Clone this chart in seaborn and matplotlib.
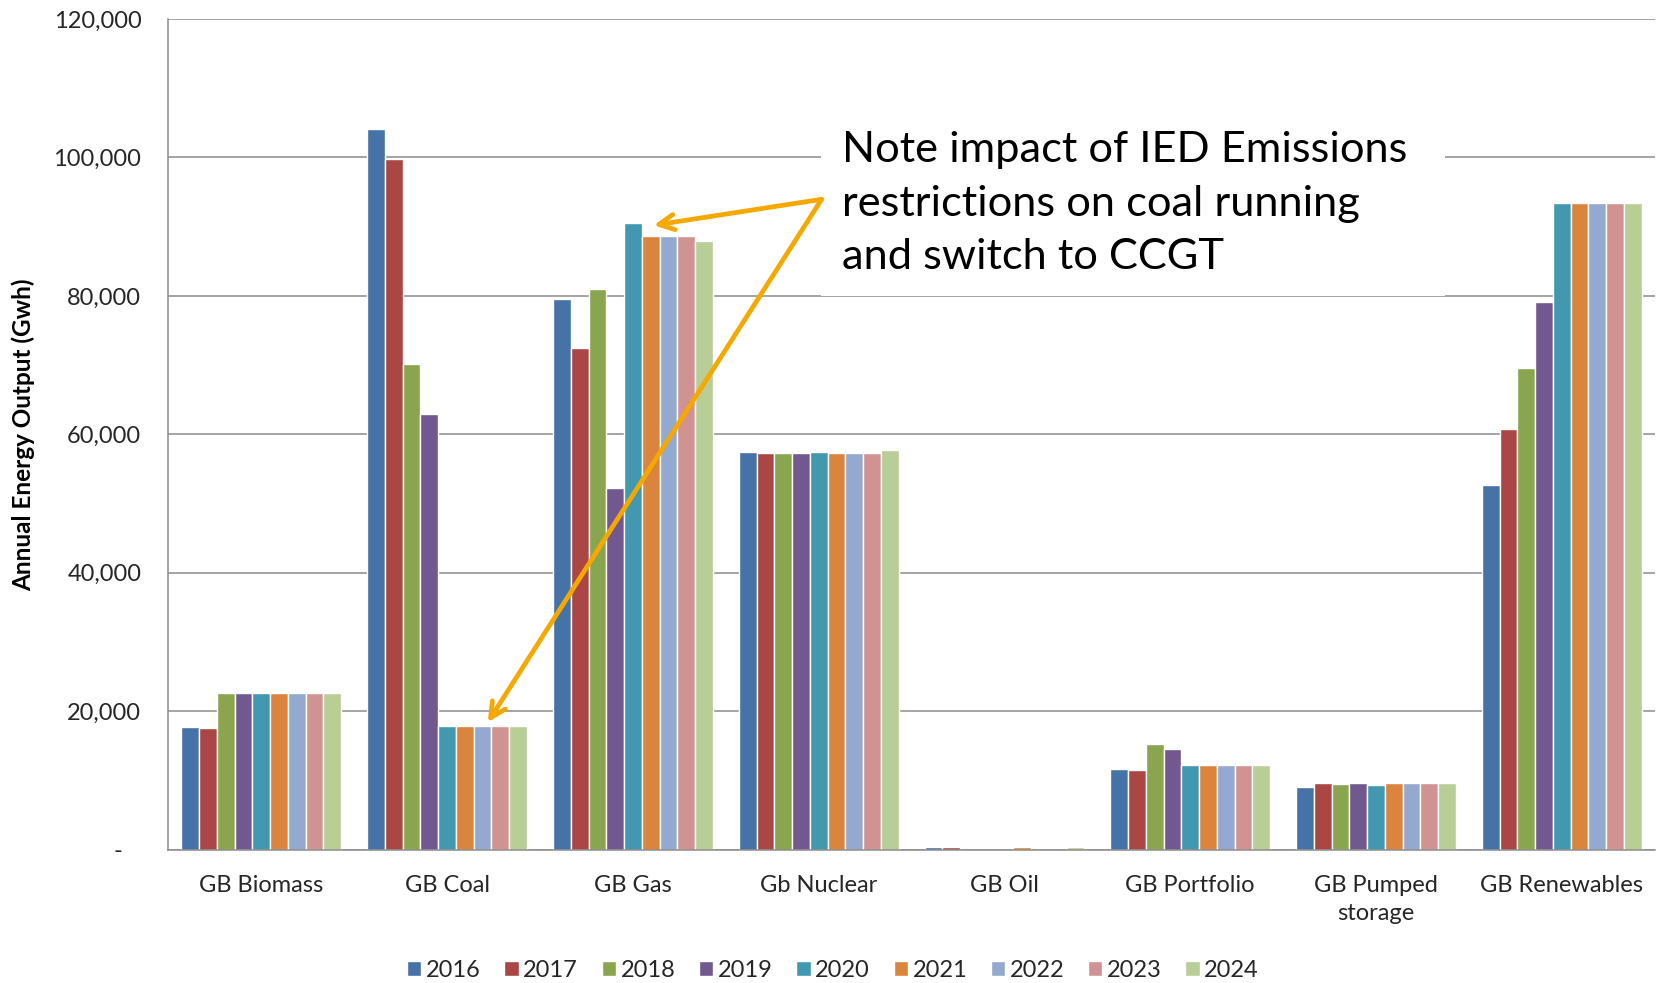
import numpy as np
import pandas as pd
import seaborn as sns
import matplotlib.pyplot as plt
from matplotlib.patches import Rectangle
from matplotlib.ticker import FuncFormatter, MultipleLocator, FixedLocator

# values (GWh)
categories = ['GB Biomass', 'GB Coal', 'GB Gas', 'Gb Nuclear', 'GB Oil',
              'GB Portfolio', 'GB Pumped\nstorage', 'GB Renewables']
years = ['2016', '2017', '2018', '2019', '2020', '2021', '2022', '2023', '2024']

biomass = [17700, 17500, 22600, 22600, 22600, 22600, 22600, 22600, 22600]
coal = [104100, 99700, 70200, 62900, 17900, 17900, 17900, 17900, 17900]
gas = [79600, 72500, 81000, 52200, 90500, 88700, 88600, 88700, 87900]
nuclear = [57500, 57300, 57300, 57300, 57400, 57300, 57300, 57300, 57800]
oil = [400, 400, 0, 0, 0, 400, 0, 0, 400]
portfolio = [11700, 11500, 15300, 14600, 12250, 12250, 12250, 12250, 12250]
pumped = [9100, 9650, 9500, 9650, 9350, 9650, 9650, 9650, 9650]
renewables = [52700, 60800, 69600, 79100, 93400, 93400, 93400, 93400, 93400]

year_colors = ['#4572A7', '#AA4643', '#89A54E', '#71588F', '#4198AF',
               '#DB843D', '#93A9CF', '#D19392', '#B9CD96']

series = [biomass, coal, gas, nuclear, oil, portfolio, pumped, renewables]
rows = []
for cat, vals in zip(categories, series):
    for yr, v in zip(years, vals):
        rows.append({'category': cat, 'year': yr, 'output': v})
df = pd.DataFrame(rows)

sns.set_style('white')
plt.rcParams['font.family'] = ['Lato', 'DejaVu Sans']
text_col = '#262626'
grid_col = '#8c8c8c'

fig = plt.figure(figsize=(16.61, 9.83), dpi=100)
ax = fig.add_axes([0.1014, 0.1357, 0.8948, 0.8450])

sns.barplot(data=df, x='category', y='output', hue='year', order=categories,
            hue_order=years, palette=year_colors, saturation=1, width=0.86,
            ax=ax)

ax.set_xlim(-0.5, 7.5)
ax.set_ylim(0, 120000)
ax.yaxis.set_major_locator(MultipleLocator(20000))
ax.yaxis.set_major_formatter(FuncFormatter(lambda v, p: '-   ' if v == 0 else f'{v:,.0f}'))
ax.yaxis.grid(True, color=grid_col, lw=1.1)
ax.set_axisbelow(True)

for s in ['top', 'right']:
    ax.spines[s].set_visible(False)
for s in ['left', 'bottom']:
    ax.spines[s].set_color(grid_col)
    ax.spines[s].set_linewidth(1.1)

ax.tick_params(axis='y', length=6.5, width=1.1, color=grid_col, pad=13,
               labelsize=17, labelcolor=text_col)
ax.tick_params(axis='x', which='major', length=0, pad=18, labelsize=17,
               labelcolor=text_col)
ax.xaxis.set_minor_locator(FixedLocator(np.arange(-0.5, 8, 1)))
ax.tick_params(axis='x', which='minor', length=6.5, width=1.1, color=grid_col)
for lbl in ax.get_xticklabels():
    lbl.set_linespacing(1.42)

ax.set_xlabel('')
ax.set_ylabel('Annual Energy Output (Gwh)', fontsize=17.5, fontweight='bold',
              color='black')
ax.yaxis.set_label_coords(-0.090, 0.5)

sns.move_legend(ax, 'center', bbox_to_anchor=(0.5015, 0.0132),
                bbox_transform=fig.transFigure, ncol=9, frameon=False,
                title=None, fontsize=17, handlelength=0.6, handleheight=0.6,
                handletextpad=0.2, columnspacing=1.0)
for t in ax.get_legend().get_texts():
    t.set_color(text_col)

# note box and arrows
ax.add_patch(Rectangle((3.01, 80000), 3.363, 26000, facecolor='white',
                       edgecolor='none', zorder=1.5))
ax.text(3.123, 93300, 'Note impact of IED Emissions\nrestrictions on coal running\nand switch to CCGT',
        fontsize=31.2, color='black', ha='left', va='center', linespacing=1.5,
        zorder=3)
arrow_col = '#F5A800'
origin = (3.016, 93950)
for target in [(2.112, gas[4] - 300), (1.219, coal[6] + 500)]:
    ax.annotate('', xy=target, xytext=origin, zorder=4,
                arrowprops=dict(arrowstyle='->,head_length=1.1,head_width=0.55',
                                color=arrow_col, lw=3.4, shrinkA=0, shrinkB=0))

fig.savefig('out.png', dpi=100)
